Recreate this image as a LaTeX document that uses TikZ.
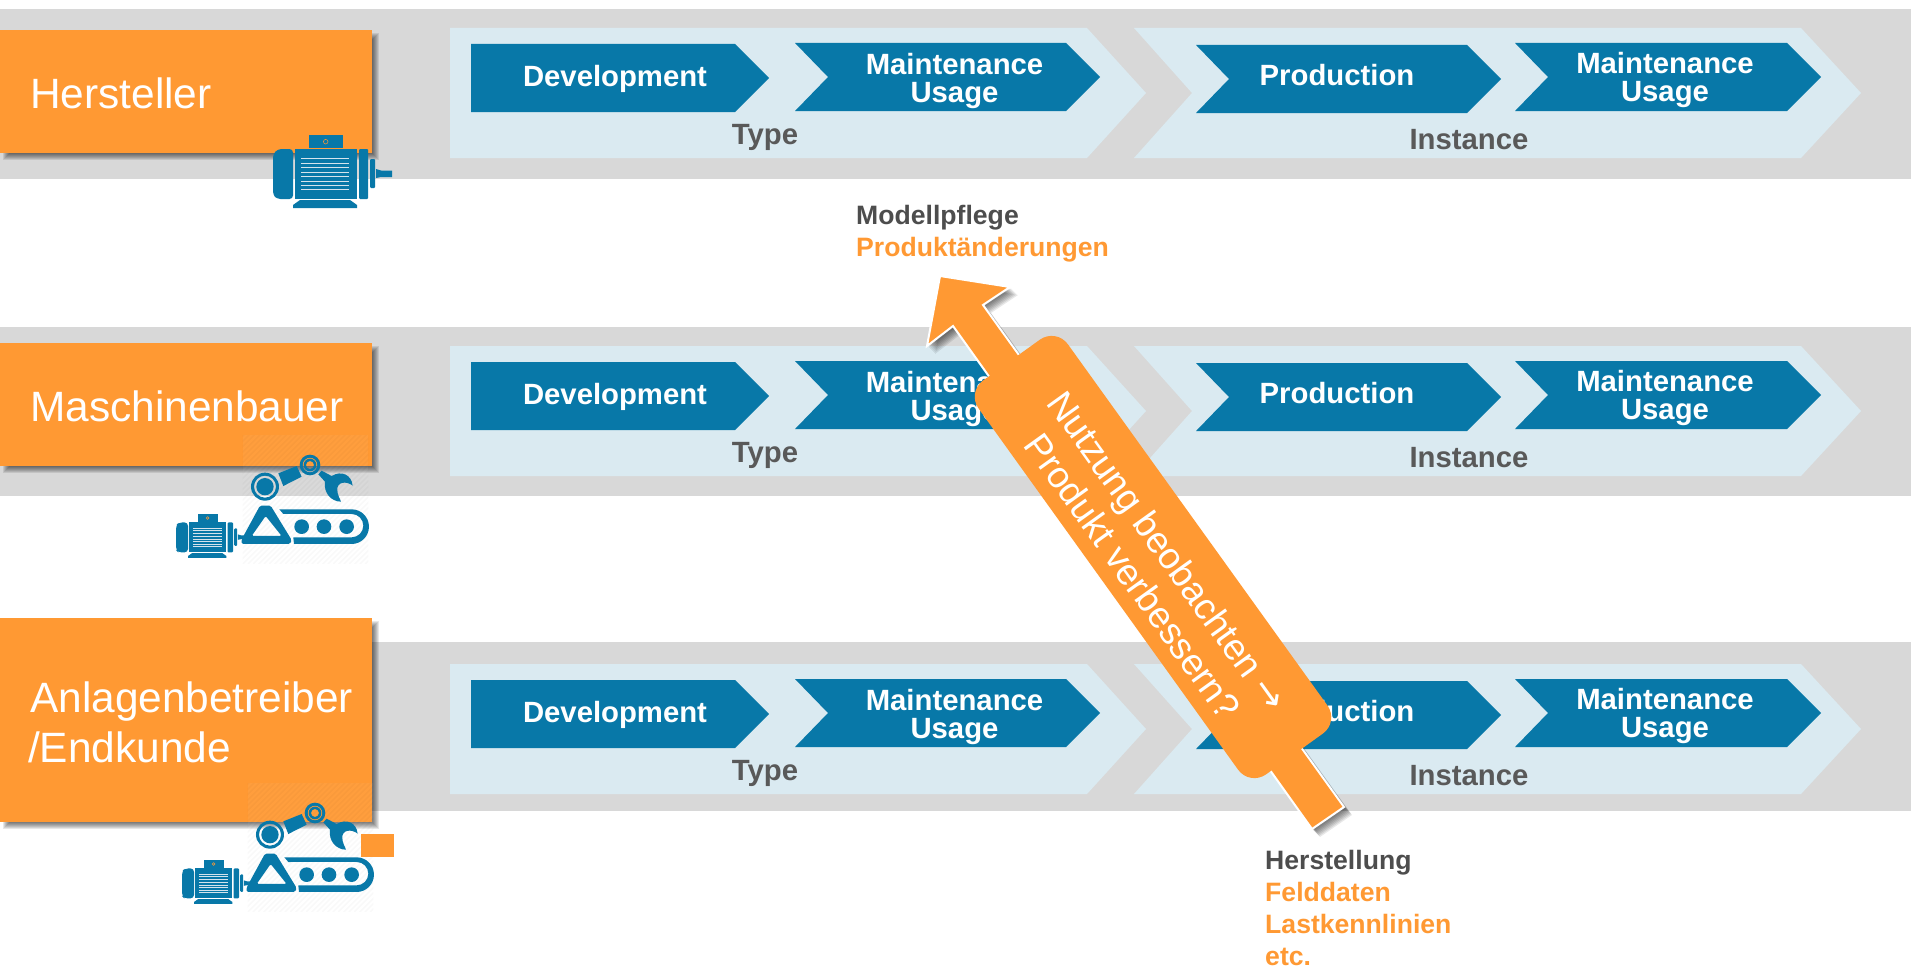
\documentclass[tikz,border=0pt]{standalone}
\usepackage{fontspec}
\setmainfont{Liberation Sans}
\newfontfamily\arrowfont{DejaVu Sans}
\definecolor{bandgray}{HTML}{D8D8D8}
\definecolor{paleblue}{HTML}{DAEAF1}
\definecolor{deepblue}{HTML}{0878A8}
\definecolor{brandorange}{HTML}{FF9933}
\definecolor{textgray}{HTML}{595959}
\definecolor{labelgray}{HTML}{4D4D4D}
\definecolor{finline}{HTML}{D5E4EC}
\tikzset{
  band/.style={fill=bandgray,draw=none},
  phase/.style={fill=paleblue,draw=none},
  stage/.style={fill=deepblue,draw=none},
  stagetext/.style={text=white,font=\bfseries\fontsize{29.3}{29.3}\selectfont,inner sep=0pt,anchor=base},
  phasetext/.style={text=textgray,font=\bfseries\fontsize{29.3}{29.3}\selectfont,inner sep=0pt,anchor=base},
  roletext/.style={text=white,font=\fontsize{42.4}{42.4}\selectfont,inner sep=0pt,anchor=base west},
  rolebox/.style={fill=brandorange,draw=none},
  notegray/.style={text=labelgray,font=\bfseries\fontsize{26.6}{26.6}\selectfont,inner sep=0pt,anchor=base west},
  noteorange/.style={text=brandorange,font=\bfseries\fontsize{26.6}{26.6}\selectfont,inner sep=0pt,anchor=base west},
  iconfill/.style={fill=deepblue,draw=none}
}
% soft shadow behind a rectangle
\newcommand\softshadow[4]{%
  \foreach \e in {4,3,2,1,0,-1,-2}{%
    \fill[black,opacity=.095] (#1+7-\e,#2+7-\e) rectangle (#3+3+\e,#4+3+\e);
  }}
% one life-cycle row
\newcommand\lifecycle[2]{%
\begin{scope}[shift={(0,#2)}]
  \fill[phase] (450,28) -- (1087,28) -- (1146,93) -- (1087,158) -- (450,158) -- cycle;
  \fill[phase] (1134,28) -- (1801,28) -- (1861,93) -- (1801,158) -- (1134,158) -- (1192,93) -- cycle;
  \fill[stage] (471,44) -- (735,44) -- (769,78) -- (735,112) -- (471,112) -- cycle;
  \fill[stage] (795,43) -- (1066,43) -- (1100,77) -- (1066,111) -- (795,111) -- (828,77) -- cycle;
  \fill[stage] (1196,45) -- (1467,45) -- (1501,79) -- (1467,113) -- (1196,113) -- (1229,79) -- cycle;
  \fill[stage] (1515,43) -- (1787,43) -- (1821,77) -- (1787,111) -- (1515,111) -- (1548,77) -- cycle;
  \node[stagetext] (#1dev) at (615,86) {Development};
  \node[stagetext] (#1mta) at (954.5,74.5) {Maintenance};
  \node[stagetext] (#1usa) at (954.5,102.5) {Usage};
  \node[phasetext] (#1type) at (765,144) {Type};
  \node[stagetext] (#1prod) at (1337,85) {Production};
  \node[stagetext] (#1mtb) at (1665,73.5) {Maintenance};
  \node[stagetext] (#1usb) at (1665,101.5) {Usage};
  \node[phasetext] (#1inst) at (1469,149) {Instance};
\end{scope}}
% electric motor icon: #1,#2 top-left, #3 scale
\newcommand\motoricon[3]{%
\begin{scope}[shift={(#1,#2)},x=#3pt,y=-#3pt]
  \fill[iconfill] (36,0) rectangle (70,13);
  \draw[brandorange,line width=.5pt] (52.7,6.7) circle (2.3);
  \fill[iconfill,rounded corners=3.5pt] (20,14) -- (5,14) -- (0,19) -- (0,60) -- (4,64) -- (20,64) -- cycle;
  \fill[iconfill] (22,14) rectangle (84,64);
  \fill[iconfill,rounded corners=1pt] (86,14) rectangle (95,64);
  \fill[iconfill,rounded corners=1pt] (97,24) rectangle (102,53);
  \fill[iconfill] (103,34) -- (108,35.5) -- (119,35.5) -- (119,42) -- (108,42) -- (103,43) -- cycle;
  \fill[iconfill] (27,65) -- (77,65) -- (84,70) -- (84,73) -- (20,73) -- (20,70) -- cycle;
  \foreach \v in {23.5,28,32.5,37,41.5,46,50,54}{
    \draw[finline,line width=.8pt] (28,\v) -- (76,\v);
  }
\end{scope}}
% robot arm with conveyor: #1,#2 origin of the crop
\newcommand\roboticon[2]{%
\begin{scope}[shift={(#1,#2)},x=.3333pt,y=-.3333pt]
  \begin{scope}
    \clip (278,45) rectangle (655,432);
    \fill[white,opacity=.05] (278,45) rectangle (655,432);
    \foreach \k in {0,16,...,800}{
      \draw[black,opacity=.022,line width=1.6pt] (278+\k-400,432) -- (278+\k,32);
    }
  \end{scope}
  \fill[iconfill,even odd rule] (345,200) circle (42) (345,200) circle (33) (345,200) circle (26);
  \fill[iconfill,even odd rule] (480,135) circle (31) (480,135) circle (22) (480,135) circle (19) (480,135) circle (12);
  \fill[iconfill] (385,160) -- (440,138) -- (455,170) -- (400,198) -- cycle;
  \fill[iconfill] (505,163) -- (515,152) -- (545,168) .. controls (575,150) and (605,165) .. (608,197)
     .. controls (590,182) and (560,185) .. (562,210) .. controls (562,225) and (570,235) .. (573,245)
     .. controls (545,245) and (520,220) .. (525,185) -- cycle;
  \fill[iconfill,even odd rule,rounded corners=1.5pt] (330,257) -- (362,257) -- (425,360) -- (420,372) -- (275,372) -- (275,358) -- cycle
     (347,288) -- (395,348) -- (305,348) -- cycle;
  \fill[iconfill] (388,268) -- (605,268) arc[start angle=90,end angle=-90,radius=17.33pt] -- (432,372) -- (430,352)
     -- (605,352) arc[start angle=-90,end angle=90,radius=11.67pt] -- (400,282) -- cycle;
  \fill[iconfill] (455,320) circle (22) (522,320) circle (22) (590,320) circle (22);
\end{scope}}

\begin{document}
\begin{tikzpicture}[x=1pt,y=-1pt]
\useasboundingbox (0,0) rectangle (1911,966);
\fill[white] (0,0) rectangle (1911,966);
% bands
\fill[band] (0,9) rectangle (1911,179);
\fill[band] (0,327) rectangle (1911,496);
\fill[band] (0,642) rectangle (1911,811);
\lifecycle{ra}{0}
\lifecycle{rb}{318}
\lifecycle{rc}{636}
% role boxes
\softshadow{0}{30}{372}{153}
\fill[rolebox] (0,30) rectangle (372,153);
\node[roletext] (hersteller) at (30,108) {Hersteller};
\softshadow{0}{343}{372}{466}
\fill[rolebox] (0,343) rectangle (372,466);
\node[roletext] (maschinenbauer) at (30,421) {Maschinenbauer};
\softshadow{0}{618}{372}{822}
\fill[rolebox] (0,618) rectangle (372,822);
\node[roletext] (anlagen) at (30,712) {Anlagenbetreiber};
\node[roletext] (endkunde) at (28,762) {/Endkunde};
% icons
\motoricon{273}{135}{1}
\motoricon{176}{514}{.6}
\roboticon{150}{420}
\motoricon{182}{860}{.6}
\roboticon{155}{768}
\fill[brandorange] (361,834) rectangle (394,857);
% notes
\node[notegray] (modell) at (856,224) {Modellpflege};
\node[noteorange] (prod) at (856,256) {Produktänderungen};
\node[notegray] (herst) at (1265,869) {Herstellung};
\node[noteorange] (feld) at (1265,901) {Felddaten};
\node[noteorange] (last) at (1265,933) {Lastkennlinien};
\node[noteorange] (etc) at (1265,965) {etc.};
% large arrow
\foreach \o in {2,3,4,5,6,7,8}{
  \fill[black,opacity=.09,shift={(\o,\o)}] (940,276) -- (1010,287) -- (983,305) -- (1344,807) -- (1312,829) -- (953,326) -- (927,346) -- cycle;
}
\draw[white,line width=2pt,fill=brandorange,line join=miter] (940,276) -- (1010,287) -- (983,305) -- (1344,807) -- (1312,829) -- (953,326) -- (927,346) -- cycle;
\node[rotate=-54.3,minimum width=485pt,minimum height=110pt,rounded corners=20pt,fill=brandorange,inner sep=0pt] (callout) at (1153,557) {};
\node[rotate=-54.3,text=white,align=center,inner sep=0pt,font=\fontsize{37}{43}\selectfont] (callouttext) at (1150.5,563.5) {Nutzung beobachten {\arrowfont →}\\Produkt verbessern?};
\end{tikzpicture}
\end{document}
